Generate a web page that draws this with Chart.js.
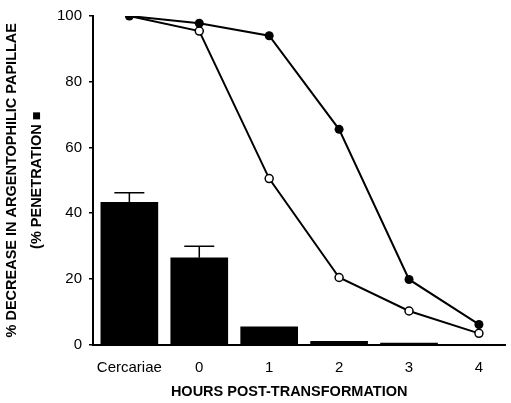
<!DOCTYPE html>
<html><head><meta charset="utf-8">
<script src="https://cdn.jsdelivr.net/npm/chart.js@4"></script>
<style>html,body{margin:0;padding:0;background:#fff}#wrap{width:511px;height:403px}</style>
</head><body><div id="wrap"><canvas id="c" width="511" height="403"></canvas></div>
<script>
const categories = ['Cercariae', '0', '1', '2', '3', '4'];
const penetration = [43.3, 26.4, 5.4, 1.0, 0.4, 0];
const penetrationErr = [2.9, 3.5, 0, 0, 0, 0];
const filledSeries = [100, 97.8, 94, 65.5, 19.8, 6.1];
const openSeries = [100, 95.4, 50.5, 20.4, 10.2, 3.4];
const yTicks = [0, 20, 40, 60, 80, 100];

const FONT = "'Liberation Sans', Arial, Helvetica, sans-serif";
const toXY = arr => arr.map((v, i) => ({x: i, y: v}));

const errorBars = {
  id: 'errorBars',
  afterDatasetDraw(chart, args) {
    if (args.index !== 0) return;
    const ctx = chart.ctx, ys = chart.scales.y;
    const meta = chart.getDatasetMeta(0);
    ctx.save();
    ctx.strokeStyle = '#000';
    ctx.lineWidth = 1.5;
    meta.data.forEach((bar, i) => {
      const e = penetrationErr[i];
      if (!e) return;
      const yTop = ys.getPixelForValue(penetration[i] + e);
      ctx.beginPath();
      ctx.moveTo(bar.x, bar.y);
      ctx.lineTo(bar.x, yTop);
      ctx.moveTo(bar.x - 15, yTop);
      ctx.lineTo(bar.x + 15, yTop);
      ctx.stroke();
    });
    ctx.restore();
  }
};

new Chart(document.getElementById('c'), {
  data: {
    datasets: [
      {type: 'bar', data: toXY(penetration), backgroundColor: '#000', borderWidth: 0, barThickness: 57, order: 3},
      {type: 'line', data: toXY(openSeries), borderColor: '#000', borderWidth: 2, tension: 0,
        pointRadius: [0, 4, 4, 4, 4, 4], pointBackgroundColor: '#fff', pointBorderColor: '#000', pointBorderWidth: 1.5, order: 2},
      {type: 'line', data: toXY(filledSeries), borderColor: '#000', borderWidth: 2, tension: 0,
        pointRadius: 4.5, pointBackgroundColor: '#000', pointBorderColor: '#000', pointBorderWidth: 0, order: 1}
    ]
  },
  options: {
    responsive: false,
    animation: false,
    devicePixelRatio: 1,
    layout: {padding: {top: 14.5, right: 0, bottom: 0, left: 0}},
    plugins: {legend: {display: false}, tooltip: {enabled: false}},
    scales: {
      x: {
        type: 'linear', min: -0.52, max: 5.38, offset: false,
        afterBuildTicks: s => { s.ticks = categories.map((c, i) => ({value: i})); },
        afterFit: s => { s.height = 58.5; },
        grid: {display: false, drawTicks: false},
        border: {display: true, color: '#000', width: 2},
        ticks: {color: '#000', padding: 14, font: {family: FONT, size: 15}, maxRotation: 0, autoSkip: false,
          callback: v => categories[v]},
        title: {display: true, text: 'HOURS POST-TRANSFORMATION     ', color: '#000',
          font: {family: FONT, size: 14.5, weight: 'bold'}, padding: {top: 0, bottom: 2}}
      },
      y: {
        min: 0, max: 100,
        afterBuildTicks: s => { s.ticks = yTicks.map(v => ({value: v})); },
        afterFit: s => { s.width = 93; },
        grid: {display: true, drawOnChartArea: false, drawTicks: true, tickLength: 4, color: '#000', lineWidth: 1.5},
        border: {display: true, color: '#000', width: 2},
        ticks: {color: '#000', padding: 7, font: {family: FONT, size: 15}},
        title: {display: true, text: ['% DECREASE IN ARGENTOPHILIC PAPILLAE', '(% PENETRATION \u25A0'], color: '#000',
          font: {family: FONT, size: 14.5, weight: 'bold', lineHeight: '25px'}, padding: {top: -1, bottom: 9}}
      }
    }
  },
  plugins: [errorBars]
});
</script></body></html>
